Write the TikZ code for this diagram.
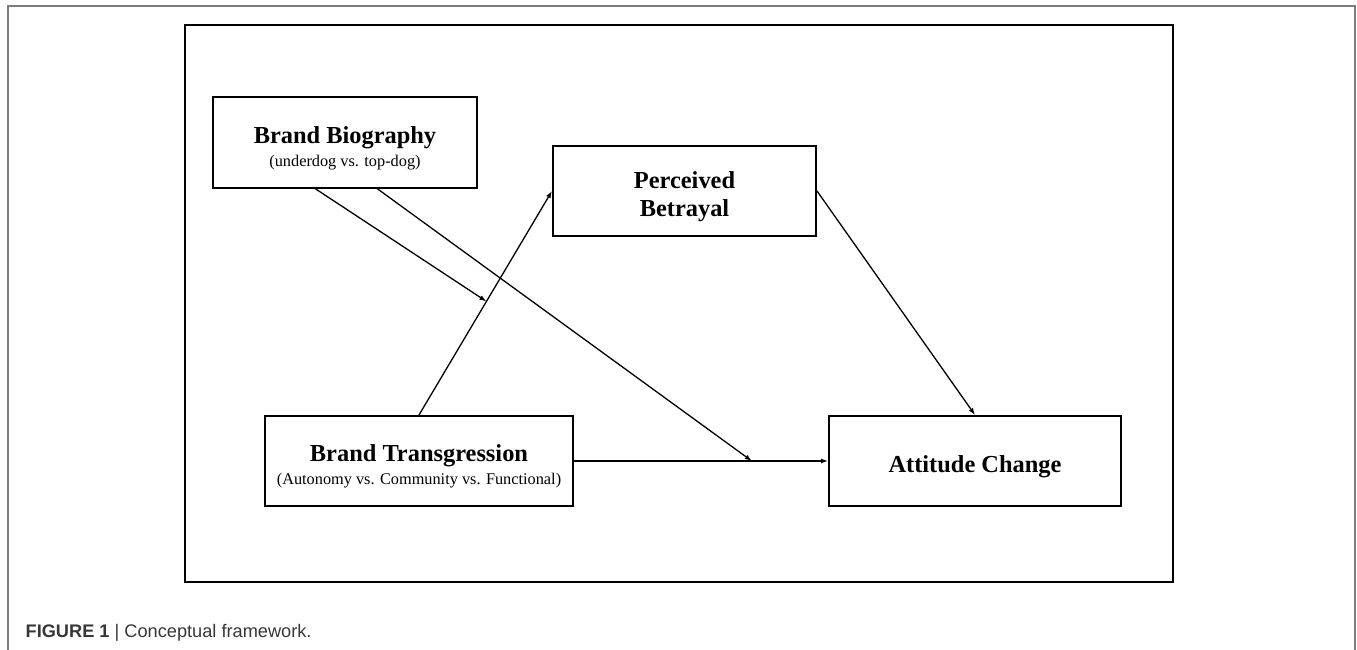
\documentclass[tikz,border=0pt]{standalone}
\usepackage{fontspec}
\setmainfont{Liberation Serif}
\newfontfamily\capfont{Liberation Sans}
\usetikzlibrary{arrows.meta,calc,positioning}
\definecolor{framegray}{RGB}{125,125,125}
\definecolor{capgray}{RGB}{55,55,55}
\newcommand{\boxtitle}{\fontsize{24.4}{28}\selectfont\bfseries}
\newcommand{\boxsub}{\fontsize{16.3}{23}\selectfont\mdseries}
\newcommand{\topstrut}{\rule{0pt}{28pt}}
\tikzstyle{box}=[rectangle,draw,line width=2pt,inner sep=0pt,align=center,minimum height=90pt,font=\boxtitle]
\tikzset{every picture/.style={line width=1.3pt}}

\begin{document}
\begin{tikzpicture}[x=1pt,y=-1pt]
\useasboundingbox (0,0) rectangle (1357,650);
% frames
\draw[framegray,line width=2pt] (8,660) -- (8,6) -- (1355,6) -- (1355,660);
\draw[line width=1.5pt] (185,25) rectangle (1173,582);
% variables
\node[box,minimum width=264pt] (B) at (345,142.5) {\topstrut Brand Biography\\[-5pt]\boxsub (underdog vs. top-dog)};
\node[box,minimum width=263pt] (P) at (684.5,191) {\topstrut Perceived\\Betrayal};
\node[box,minimum width=308pt] (T) at (419,461) {\topstrut Brand Transgression\\[-5pt]\boxsub (Autonomy vs. Community vs. Functional)};
\node[box,minimum width=292pt] (A) at (975,461) {\topstrut Attitude Change};
\coordinate (M1) at ($(T.north)!0.507!(P.west)$);
\coordinate (M2) at ($(T.east)!0.70!(A.west)$);
\path[->,>={Latex[length=7pt,width=5pt]}]
(T.north) edge (P.west)
(T.east) edge (A.west)
(P.east) edge (A.north)
([xshift=-30pt]B.south) edge (M1)
([xshift=32pt]B.south) edge (M2);
% caption
\node[anchor=base west,text=capgray,inner sep=0pt] (cap) at (25,637) {\capfont\fontsize{18.2}{20}\selectfont\bfseries FIGURE 1 \mdseries| Conceptual framework.};
\end{tikzpicture}
\end{document}
